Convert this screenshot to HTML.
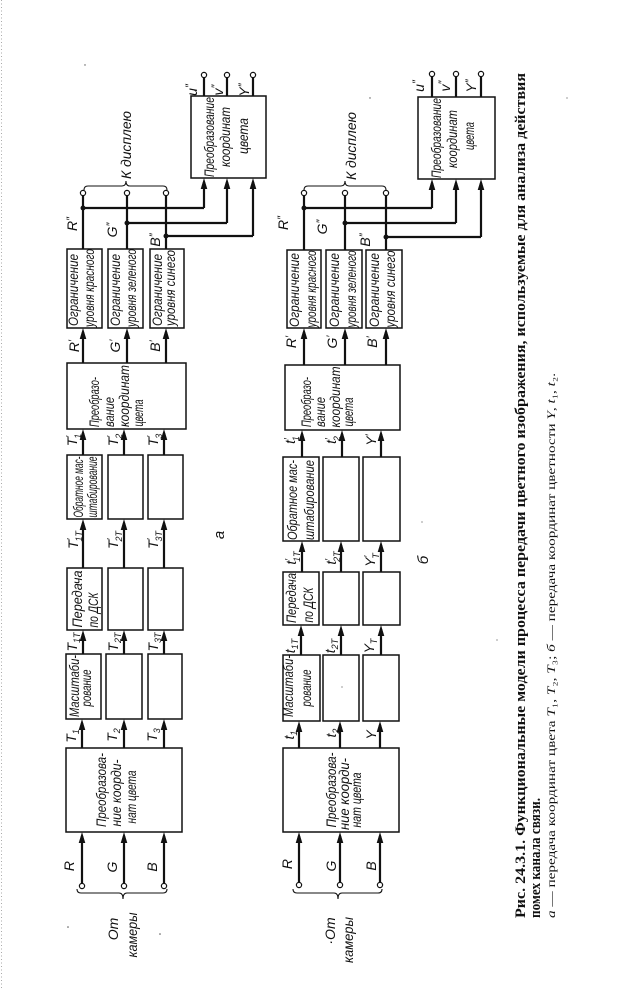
<!DOCTYPE html>
<html><head><meta charset="utf-8"><style>
html,body{margin:0;padding:0;background:#fff;}
svg{display:block;}
</style></head><body>
<svg width="641" height="990" viewBox="0 0 641 990" xmlns="http://www.w3.org/2000/svg">
<rect width="641" height="990" fill="#fff"/>
<line x1="1.5" y1="0" x2="1.5" y2="990" stroke="#aaa" stroke-width="1" stroke-dasharray="1,2.5"/>

<!-- boxes -->
<g fill="none" stroke="#111" stroke-width="1.5">
<rect x="66" y="748" width="116" height="84"/>
<rect x="66" y="654" width="35" height="65"/><rect x="106" y="654" width="36" height="65"/><rect x="148" y="654" width="34" height="65"/>
<rect x="67" y="568" width="35" height="62"/><rect x="108" y="568" width="35" height="62"/><rect x="148" y="568" width="35" height="62"/>
<rect x="67" y="455" width="35" height="64"/><rect x="108" y="455" width="35" height="64"/><rect x="148" y="455" width="35" height="64"/>
<rect x="67" y="363" width="119" height="66"/>
<rect x="67" y="249" width="35" height="79"/><rect x="108" y="249" width="35" height="79"/><rect x="150" y="249" width="34" height="79"/>
<rect x="191" y="96" width="75" height="82"/>

<rect x="283" y="748" width="116" height="84"/>
<rect x="283" y="655" width="37" height="66"/><rect x="323" y="655" width="36" height="66"/><rect x="363" y="655" width="36" height="66"/>
<rect x="283" y="572" width="36" height="53"/><rect x="323" y="572" width="36" height="53"/><rect x="363" y="572" width="37" height="53"/>
<rect x="283" y="457" width="36" height="84"/><rect x="323" y="457" width="36" height="84"/><rect x="363" y="457" width="37" height="84"/>
<rect x="285" y="365" width="115" height="65"/>
<rect x="287" y="250" width="34" height="78"/><rect x="326" y="250" width="36" height="78"/><rect x="366" y="250" width="36" height="78"/>
<rect x="418" y="97" width="77" height="82"/>
</g>

<!-- connector lines -->
<g fill="none" stroke="#111" stroke-width="2.2">
<path d="M82 883V836M124 883V836M164 883V836M82 748V723M124 748V723M164 748V723M83 654V634M124 654V634M164 654V634M83 568V523M124 568V523M164 568V523M83 455V433M124 455V433M164 455V433M83 363V332M127 363V332M166 363V332M204 208V182M227 223V182M253 236V182"/>
<path d="M83 249V196M127 249V196M166 249V196M83 208H204M127 223H227M166 236H253M204 96V78M227 96V78M253 96V78"/>
<path d="M299 882V836M340 882V836M380 882V836M299 748V725M340 748V725M380 748V725M301 655V629M341 655V629M381 655V629M302 572V545M341 572V545M381 572V545M302 457V434M342 457V434M381 457V434M304 365V332M345 365V332M386 365V332M432 208V183M456 223V183M481 237V183"/>
<path d="M304 250V196M345 250V196M386 250V196M304 208H432M345 223H456M386 237H481M432 97V77M456 97V77M481 97V77"/>
</g>

<!-- arrowheads -->
<g fill="#111">
<path d="M82 832l-3.3 11h6.6zM124 832l-3.3 11h6.6zM164 832l-3.3 11h6.6zM82 719l-3.3 11h6.6zM124 719l-3.3 11h6.6zM164 719l-3.3 11h6.6zM83 630l-3.3 11h6.6zM124 630l-3.3 11h6.6zM164 630l-3.3 11h6.6zM83 519l-3.3 11h6.6zM124 519l-3.3 11h6.6zM164 519l-3.3 11h6.6zM83 429l-3.3 11h6.6zM124 429l-3.3 11h6.6zM164 429l-3.3 11h6.6zM83 328l-3.3 11h6.6zM127 328l-3.3 11h6.6zM166 328l-3.3 11h6.6zM204 178l-3.3 11h6.6zM227 178l-3.3 11h6.6zM253 178l-3.3 11h6.6z"/>
<path d="M299 832l-3.3 11h6.6zM340 832l-3.3 11h6.6zM380 832l-3.3 11h6.6zM299 721l-3.3 11h6.6zM340 721l-3.3 11h6.6zM380 721l-3.3 11h6.6zM301 625l-3.3 11h6.6zM341 625l-3.3 11h6.6zM381 625l-3.3 11h6.6zM302 541l-3.3 11h6.6zM341 541l-3.3 11h6.6zM381 541l-3.3 11h6.6zM302 430l-3.3 11h6.6zM342 430l-3.3 11h6.6zM381 430l-3.3 11h6.6zM304 328l-3.3 11h6.6zM345 328l-3.3 11h6.6zM386 328l-3.3 11h6.6zM432 179l-3.3 11h6.6zM456 179l-3.3 11h6.6zM481 179l-3.3 11h6.6z"/>
<circle cx="83" cy="208" r="2.5"/><circle cx="127" cy="223" r="2.5"/><circle cx="166" cy="236" r="2.5"/>
<circle cx="304" cy="208" r="2.5"/><circle cx="345" cy="223" r="2.5"/><circle cx="386" cy="237" r="2.5"/>
</g>

<!-- terminals -->
<g fill="#fff" stroke="#111" stroke-width="1.2">
<circle cx="82" cy="886" r="2.6"/><circle cx="124" cy="886" r="2.6"/><circle cx="164" cy="886" r="2.6"/>
<circle cx="83" cy="193" r="2.6"/><circle cx="127" cy="193" r="2.6"/><circle cx="166" cy="193" r="2.6"/>
<circle cx="204" cy="75" r="2.6"/><circle cx="227" cy="75" r="2.6"/><circle cx="253" cy="75" r="2.6"/>
<circle cx="299" cy="885" r="2.6"/><circle cx="340" cy="885" r="2.6"/><circle cx="380" cy="885" r="2.6"/>
<circle cx="304" cy="193" r="2.6"/><circle cx="345" cy="193" r="2.6"/><circle cx="386" cy="193" r="2.6"/>
<circle cx="432" cy="74" r="2.6"/><circle cx="456" cy="74" r="2.6"/><circle cx="481" cy="74" r="2.6"/>
</g>

<!-- braces -->
<g fill="none" stroke="#111" stroke-width="1.1">
<path d="M84 190Q84 186 88 186L122 186Q126 186 126 181Q126 186 130 186L163 186Q167 186 167 190"/>
<path d="M304 190Q304 186 308 186L341 186Q345 186 345 181Q345 186 349 186L382 186Q386 186 386 190"/>
<path d="M77 889Q77 893 81 893L119 893Q123 893 123 899Q123 893 127 893L163 893Q167 893 167 889"/>
<path d="M293 889Q293 893 297 893L334 893Q338 893 338 899Q338 893 342 893L378 893Q382 893 382 889"/>
</g>

<!-- rotated diagram text -->
<g transform="rotate(-90)" font-family="'Liberation Sans', 'DejaVu Sans', sans-serif" font-style="italic" fill="#111" font-size="14" text-anchor="middle">
<!-- a: boxes -->
<text x="-790" y="106" textLength="74" lengthAdjust="spacingAndGlyphs">Преобразова-</text>
<text x="-793" y="121" textLength="67" lengthAdjust="spacingAndGlyphs">ние коорди-</text>
<text x="-797" y="136" textLength="53" lengthAdjust="spacingAndGlyphs">нат цвета</text>
<text x="-686" y="79" textLength="62" lengthAdjust="spacingAndGlyphs">Масштаби-</text>
<text x="-688" y="91" textLength="37" lengthAdjust="spacingAndGlyphs">рование</text>
<text x="-599" y="82" textLength="57" lengthAdjust="spacingAndGlyphs">Передача</text>
<text x="-610" y="98" textLength="35" lengthAdjust="spacingAndGlyphs">по ДСК</text>
<text x="-487" y="83" textLength="61" lengthAdjust="spacingAndGlyphs">Обратное мас-</text>
<text x="-487" y="97" textLength="61" lengthAdjust="spacingAndGlyphs">штабирование</text>
<text x="-402" y="99" textLength="50" lengthAdjust="spacingAndGlyphs">Преобразо-</text>
<text x="-412" y="114" textLength="30" lengthAdjust="spacingAndGlyphs">вание</text>
<text x="-396" y="129" textLength="62" lengthAdjust="spacingAndGlyphs">координат</text>
<text x="-413" y="143" textLength="27" lengthAdjust="spacingAndGlyphs">цвета</text>
<text x="-290" y="78" textLength="72" lengthAdjust="spacingAndGlyphs">Ограничение</text>
<text x="-288" y="94" textLength="78" lengthAdjust="spacingAndGlyphs">уровня красного</text>
<text x="-290" y="120" textLength="72" lengthAdjust="spacingAndGlyphs">Ограничение</text>
<text x="-288" y="136" textLength="78" lengthAdjust="spacingAndGlyphs">уровня зеленого</text>
<text x="-290" y="162" textLength="72" lengthAdjust="spacingAndGlyphs">Ограничение</text>
<text x="-288" y="175" textLength="76" lengthAdjust="spacingAndGlyphs">уровня синего</text>
<text x="-137" y="214" textLength="80" lengthAdjust="spacingAndGlyphs">Преобразование</text>
<text x="-137" y="230" textLength="60" lengthAdjust="spacingAndGlyphs">координат</text>
<text x="-136" y="248" textLength="36" lengthAdjust="spacingAndGlyphs">цвета</text>
<!-- б: boxes -->
<text x="-790" y="336" textLength="75" lengthAdjust="spacingAndGlyphs">Преобразова-</text>
<text x="-794" y="349" textLength="72" lengthAdjust="spacingAndGlyphs">ние коорди-</text>
<text x="-800" y="361" textLength="55" lengthAdjust="spacingAndGlyphs">нат цвета</text>
<text x="-686" y="293" textLength="62" lengthAdjust="spacingAndGlyphs">Масштаби-</text>
<text x="-688" y="311" textLength="37" lengthAdjust="spacingAndGlyphs">рование</text>
<text x="-598" y="296" textLength="50" lengthAdjust="spacingAndGlyphs">Передача</text>
<text x="-605" y="313" textLength="35" lengthAdjust="spacingAndGlyphs">по ДСК</text>
<text x="-500" y="297" textLength="80" lengthAdjust="spacingAndGlyphs">Обратное мас-</text>
<text x="-500" y="314" textLength="80" lengthAdjust="spacingAndGlyphs">штабирование</text>
<text x="-402" y="311" textLength="50" lengthAdjust="spacingAndGlyphs">Преобразо-</text>
<text x="-412" y="325" textLength="30" lengthAdjust="spacingAndGlyphs">вание</text>
<text x="-397" y="340" textLength="61" lengthAdjust="spacingAndGlyphs">координат</text>
<text x="-412" y="353" textLength="29" lengthAdjust="spacingAndGlyphs">цвета</text>
<text x="-290" y="299" textLength="74" lengthAdjust="spacingAndGlyphs">Ограничение</text>
<text x="-289" y="316" textLength="77" lengthAdjust="spacingAndGlyphs">уровня красного</text>
<text x="-290" y="339" textLength="74" lengthAdjust="spacingAndGlyphs">Ограничение</text>
<text x="-289" y="356" textLength="77" lengthAdjust="spacingAndGlyphs">уровня зеленого</text>
<text x="-290" y="379" textLength="74" lengthAdjust="spacingAndGlyphs">Ограничение</text>
<text x="-289" y="395" textLength="77" lengthAdjust="spacingAndGlyphs">уровня синего</text>
<text x="-138" y="441" textLength="80" lengthAdjust="spacingAndGlyphs">Преобразование</text>
<text x="-139" y="457" textLength="58" lengthAdjust="spacingAndGlyphs">координат</text>
<text x="-136" y="474" textLength="28" lengthAdjust="spacingAndGlyphs">цвета</text>

<!-- a: labels -->
<text x="-866" y="74">R</text><text x="-867" y="117">G</text><text x="-867" y="157">B</text>
<text x="-736" y="76">T<tspan font-size="9" dy="3">1</tspan></text>
<text x="-735" y="117">T<tspan font-size="9" dy="3">2</tspan></text>
<text x="-735" y="157">T<tspan font-size="9" dy="3">3</tspan></text>
<text x="-642" y="77">T<tspan font-size="9" dy="3">1T</tspan></text>
<text x="-642" y="118">T<tspan font-size="9" dy="3">2T</tspan></text>
<text x="-642" y="158">T<tspan font-size="9" dy="3">3T</tspan></text>
<text x="-540" y="78">T<tspan font-size="10" dy="-4">′</tspan><tspan font-size="9" dx="-3" dy="8">1T</tspan></text>
<text x="-540" y="118">T<tspan font-size="10" dy="-4">′</tspan><tspan font-size="9" dx="-3" dy="8">2T</tspan></text>
<text x="-540" y="158">T<tspan font-size="10" dy="-4">′</tspan><tspan font-size="9" dx="-3" dy="8">3T</tspan></text>
<text x="-440" y="77">T<tspan font-size="10" dy="-4">′</tspan><tspan font-size="9" dx="-3" dy="8">1</tspan></text>
<text x="-440" y="118">T<tspan font-size="10" dy="-4">′</tspan><tspan font-size="9" dx="-3" dy="8">2</tspan></text>
<text x="-440" y="158">T<tspan font-size="10" dy="-4">′</tspan><tspan font-size="9" dx="-3" dy="8">3</tspan></text>
<text x="-346" y="79">R<tspan font-size="11" dy="-3">′</tspan></text>
<text x="-346" y="120">G<tspan font-size="11" dy="-3">′</tspan></text>
<text x="-346" y="160">B<tspan font-size="11" dy="-3">′</tspan></text>
<text x="-224" y="77">R<tspan font-size="11" dy="-3">″</tspan></text>
<text x="-230" y="117">G<tspan font-size="11" dy="-3">″</tspan></text>
<text x="-240" y="160">B<tspan font-size="11" dy="-3">″</tspan></text>
<text x="-90" y="197">u<tspan font-size="11" dy="-4">″</tspan></text>
<text x="-90" y="223">v<tspan font-size="11" dy="-4">″</tspan></text>
<text x="-90" y="249">Y<tspan font-size="11" dy="-3">″</tspan></text>
<text x="-145" y="131" textLength="68" lengthAdjust="spacingAndGlyphs">К дисплею</text>
<text x="-929" y="118">От</text>
<text x="-935" y="137" textLength="45" lengthAdjust="spacingAndGlyphs">камеры</text>
<text x="-535" y="224" font-size="15">а</text>

<!-- б: labels -->
<text x="-864" y="292">R</text><text x="-866" y="336">G</text><text x="-866" y="376">B</text>
<text x="-735" y="294">t<tspan font-size="9" dy="3">1</tspan></text>
<text x="-733" y="336">t<tspan font-size="9" dy="3">2</tspan></text>
<text x="-735" y="376">Y</text>
<text x="-646" y="295">t<tspan font-size="9" dy="3">1T</tspan></text>
<text x="-646" y="335">t<tspan font-size="9" dy="3">2T</tspan></text>
<text x="-646" y="374">Y<tspan font-size="9" dy="3">T</tspan></text>
<text x="-558" y="296">t<tspan font-size="10" dy="-4">′</tspan><tspan font-size="9" dx="-3" dy="8">1T</tspan></text>
<text x="-558" y="336">t<tspan font-size="10" dy="-4">′</tspan><tspan font-size="9" dx="-3" dy="8">2T</tspan></text>
<text x="-560" y="375">Y<tspan font-size="10" dy="-4">′</tspan><tspan font-size="9" dx="-3" dy="8">T</tspan></text>
<text x="-440" y="295">t<tspan font-size="10" dy="-4">′</tspan><tspan font-size="9" dx="-3" dy="8">1</tspan></text>
<text x="-440" y="336">t<tspan font-size="10" dy="-4">′</tspan><tspan font-size="9" dx="-3" dy="8">2</tspan></text>
<text x="-440" y="376">Y<tspan font-size="11" dy="-3">′</tspan></text>
<text x="-342" y="296">R<tspan font-size="11" dy="-3">′</tspan></text>
<text x="-342" y="337">G<tspan font-size="11" dy="-3">′</tspan></text>
<text x="-342" y="377">B<tspan font-size="11" dy="-3">′</tspan></text>
<text x="-223" y="288">R<tspan font-size="11" dy="-3">″</tspan></text>
<text x="-227" y="327">G<tspan font-size="11" dy="-3">″</tspan></text>
<text x="-240" y="370">B<tspan font-size="11" dy="-3">″</tspan></text>
<text x="-86" y="424">u<tspan font-size="11" dy="-4">″</tspan></text>
<text x="-86" y="450">v<tspan font-size="11" dy="-4">″</tspan></text>
<text x="-86" y="476">Y<tspan font-size="11" dy="-3">″</tspan></text>
<text x="-146" y="356" textLength="68" lengthAdjust="spacingAndGlyphs">К дисплею</text>
<text x="-931" y="335">·От</text>
<text x="-940" y="353" textLength="46" lengthAdjust="spacingAndGlyphs">камеры</text>
<text x="-560" y="428" font-size="15">б</text>
</g>

<!-- caption -->
<g transform="rotate(-90)" font-family="'Liberation Serif', 'DejaVu Serif', serif" fill="#111" text-anchor="start">
<text x="-918" y="525" font-weight="bold" font-size="14.5" textLength="845" lengthAdjust="spacingAndGlyphs">Рис. 24.3.1. Функциональные модели процесса передачи цветного изображения, используемые для анализа действия</text>
<text x="-918" y="540" font-weight="bold" font-size="14.5" textLength="120" lengthAdjust="spacingAndGlyphs">помех канала связи.</text>
<text x="-918" y="555" font-size="11.5" textLength="545" lengthAdjust="spacingAndGlyphs"><tspan font-style="italic">а</tspan> — передача координат цвета <tspan font-style="italic">T</tspan>₁, <tspan font-style="italic">T</tspan>₂, <tspan font-style="italic">T</tspan>₃; <tspan font-style="italic">б</tspan> — передача координат цветности <tspan font-style="italic">Y</tspan>, <tspan font-style="italic">t</tspan>₁, <tspan font-style="italic">t</tspan>₂.</text>
</g>

<!-- specks -->
<g fill="#555">
<circle cx="68" cy="927" r="0.8"/><circle cx="160" cy="934" r="0.8"/><circle cx="85" cy="65" r="0.7"/>
<circle cx="370" cy="98" r="0.7"/><circle cx="567" cy="98" r="0.6"/><circle cx="422" cy="522" r="0.6"/>
<circle cx="342" cy="687" r="0.6"/><circle cx="497" cy="640" r="0.6"/>
</g>
</svg>
</body></html>
